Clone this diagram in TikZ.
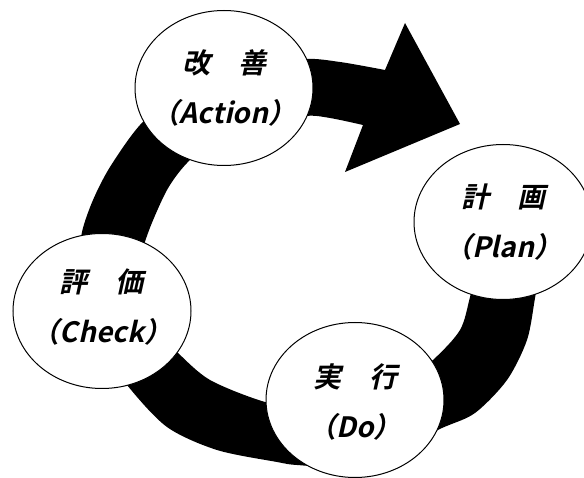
\documentclass[tikz,border=0pt]{standalone}
\usepackage{fontspec}
\usetikzlibrary{shapes.geometric}
\newfontfamily\jpfont[FakeSlant=0.22]{Noto Sans CJK JP Bold}

\begin{document}
\begin{tikzpicture}[x=1pt,y=-1pt,
    phase/.style={ellipse,draw,line width=1pt,fill=white,inner sep=0pt,
      minimum width=178pt,minimum height=155pt},
    txt/.style={align=center,inner sep=0pt,font=\jpfont\fontsize{28}{50}\selectfont}]
  \useasboundingbox (0,0) rectangle (584,478);
  \clip (0,0) rectangle (584,478);
  % the big cycle arrow
  \fill plot[smooth,tension=0.5] coordinates {(541,262) (535,298) (527,340) (507,380) (475,413) (442,428) (395,450) (340,466) (297,465) (277,462) (217,450) (167,427) (127,385) (100,345) (85,305) (79,265) (82,232) (93,200) (110,167) (140,125) (180,90) (240,68) (303,59) (340,62) (385,70)}
    -- (405,23) -- (460,124) -- (345,172) -- (363,125)
    -- plot[smooth,tension=0.5] coordinates {(363,125) (330,118) (305,116) (250,125) (215,140) (187,163) (167,190) (148,233) (140,265) (145,305) (160,335) (178,353) (210,380) (265,402) (320,412) (390,395) (433,360) (460,330) (470,297) (478,262)} -- cycle;
  % the four phases
  \node[phase] (act) at (224,88) {};
  \node[txt] (act-t) at (act) {改　善\\（Action）};
  \node[phase] (plan) at (503,222) {};
  \node[txt] (plan-t) at (plan) {計　画\\（Plan）};
  \node[phase] (chk) at (102,311) {};
  \node[txt] (chk-t) at ([yshift=4pt]chk) {評　価\\（Check）};
  \node[phase] (do) at (355,400) {};
  \node[txt] (do-t) at ([yshift=-2pt]do) {実　行\\（Do）};
\end{tikzpicture}
\end{document}
